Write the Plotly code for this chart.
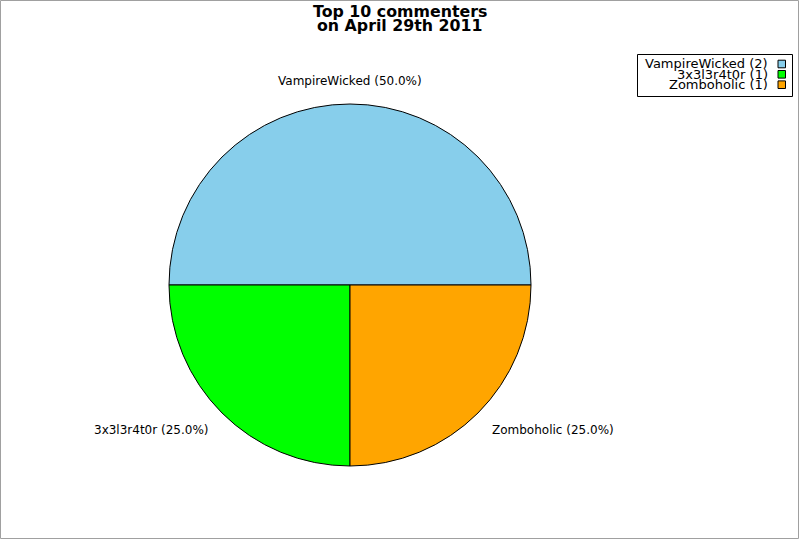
import math
import plotly.graph_objects as go

names = ["VampireWicked", "3x3l3r4t0r", "Zomboholic"]
counts = [2, 1, 1]
colors = ["#87CEEB", "#00FF00", "#FFA500"]
title_lines = ["Top 10 commenters", "on April 29th 2011"]

W, H = 800, 540
cx, cy, r = 350.0, 285.0, 181.0  # pixel geometry of the pie (from top-left)
FONT = "DejaVu Sans"

def px(x):
    return x / W

def py(y):
    return 1 - y / H

fig = go.Figure()
fig.add_trace(go.Pie(
    labels=names, values=counts, sort=False, direction="counterclockwise",
    rotation=-90, textinfo="none", hoverinfo="label+value+percent",
    marker=dict(colors=colors, line=dict(color="black", width=1)),
    domain=dict(x=[px(cx - r), px(cx + r)], y=[py(cy + r), py(cy - r)]),
    showlegend=False,
))

annotations = []
total = sum(counts)
start = 0.0
for name, v in zip(names, counts):
    frac = v / total
    mid = math.radians(start + frac * 360 / 2)
    start += frac * 360
    lx = cx + 1.1 * r * math.cos(mid)
    ly = cy - 1.1 * r * math.sin(mid)
    c, s = math.cos(mid), math.sin(mid)
    xa = "left" if c > 0.01 else ("right" if c < -0.01 else "center")
    ya = "bottom" if s > 0.01 else ("top" if s < -0.01 else "middle")
    ys = -3 if ya == "bottom" else (4 if ya == "top" else 0)
    annotations.append(dict(
        x=px(lx), y=py(ly), xref="paper", yref="paper", showarrow=False,
        text=f"{name} ({frac*100:.1f}%)", xanchor=xa, yanchor=ya, yshift=ys,
        font=dict(family=FONT, size=12, color="black"), borderpad=0,
    ))

for i, t in enumerate(title_lines):
    annotations.append(dict(
        x=0.5, y=py(11.5 + i * 13.6), xref="paper", yref="paper", showarrow=False,
        text=f"<b>{t}</b>", xanchor="center", yanchor="middle",
        font=dict(family=FONT, size=15.8, color="black"), borderpad=0,
    ))

shapes = []
# custom legend (text right-aligned, swatch on the right)
leg_y = [64.0, 74.3, 84.7]
for name, v, col, yy in zip(names, counts, colors, leg_y):
    annotations.append(dict(
        x=px(769), y=py(yy), xref="paper", yref="paper", showarrow=False,
        text=f"{name} ({v})", xanchor="right", yanchor="middle",
        font=dict(family=FONT, size=13, color="black"), borderpad=0,
    ))
    shapes.append(dict(type="rect", xref="paper", yref="paper",
                       x0=px(778), x1=px(785.5), y0=py(yy + 3.8), y1=py(yy - 3.8),
                       fillcolor=col, line=dict(color="black", width=1)))
shapes.append(dict(type="rect", xref="paper", yref="paper",
                   x0=px(637.5), x1=px(792.5), y0=py(96.5), y1=py(54.5),
                   line=dict(color="black", width=1)))
# outer image border
shapes.append(dict(type="rect", xref="paper", yref="paper",
                   x0=px(0.5), x1=px(798.5), y0=py(538.5), y1=py(0.5),
                   line=dict(color="#a0a0a0", width=1)))

fig.update_layout(
    width=W, height=H, margin=dict(l=0, r=0, t=0, b=0),
    paper_bgcolor="white", plot_bgcolor="white",
    annotations=annotations, shapes=shapes, showlegend=False,
    font=dict(family=FONT),
)
fig.write_html("out.html", config={"displayModeBar": False},
               post_script="document.body.style.margin='0px';document.body.style.overflow='hidden';")
